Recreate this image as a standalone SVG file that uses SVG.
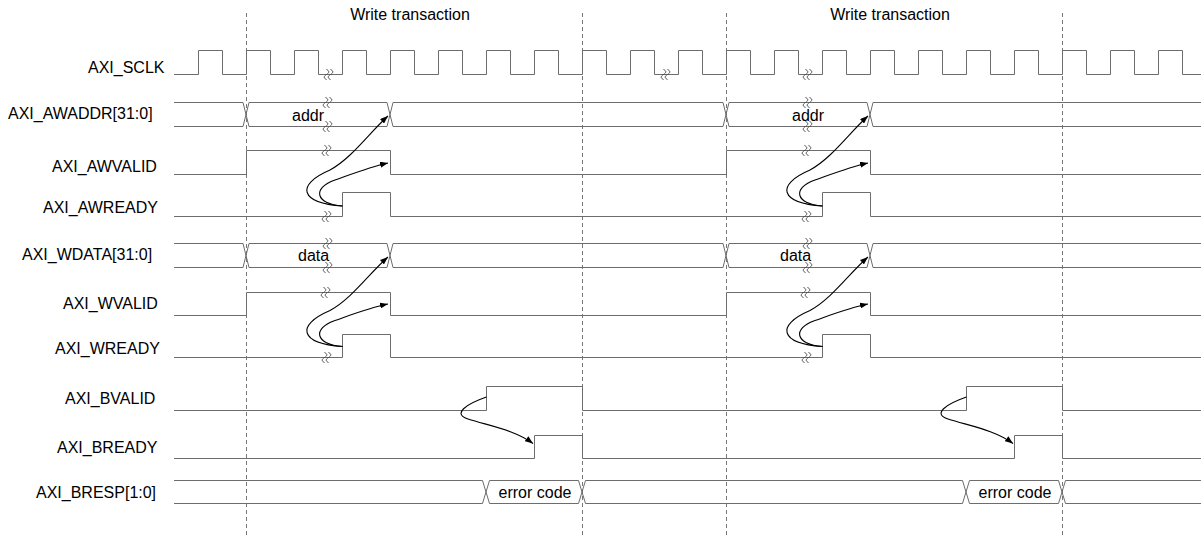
<svg xmlns="http://www.w3.org/2000/svg" width="1201" height="537" viewBox="0 0 1201 537">
<style>
text{font-family:"Liberation Sans",Arial,sans-serif;font-size:16px;fill:#000}
.w{fill:none;stroke:#6d6d6d;stroke-width:1}
.dash{fill:none;stroke:#777;stroke-width:1;stroke-dasharray:4 3}
.brk{fill:none;stroke:#4a4a4a;stroke-width:1}
.arr{fill:none;stroke:#000;stroke-width:1.1;marker-end:url(#ah)}
</style>
<defs>
<marker id="ah" viewBox="0 0 8 6" refX="8" refY="3" markerWidth="8" markerHeight="6" orient="auto" markerUnits="userSpaceOnUse"><path d="M0,0 L8,3 L0,6 z" fill="#000"/></marker>
<g id="bm"><path class="brk" d="M-3.5,-5 c3,1.2 3,3.4 0,5 c-3,1.6 -3,3.8 0,5"/><path class="brk" d="M0.5,-5 c3,1.2 3,3.4 0,5 c-3,1.6 -3,3.8 0,5"/></g>
</defs>
<rect width="1201" height="537" fill="#fff"/>

<g id="guides">
<line class="dash" x1="246.5" y1="13" x2="246.5" y2="536"/>
<line class="dash" x1="582.5" y1="13" x2="582.5" y2="536"/>
<line class="dash" x1="726.5" y1="13" x2="726.5" y2="536"/>
<line class="dash" x1="1062.5" y1="13" x2="1062.5" y2="536"/>
<text x="410" y="20" text-anchor="middle">Write transaction</text>
<text x="890" y="20" text-anchor="middle">Write transaction</text>
</g>

<g id="sclk">
<text x="88" y="73">AXI_SCLK</text>
<path class="w" d="M174,74.5 H198.5 V50.5 H222.5 V74.5 H246.5 V50.5 H270.5 V74.5 H294.5 V50.5 H318.5 V74.5 H342.5 V50.5 H366.5 V74.5 H390.5 V50.5 H414.5 V74.5 H438.5 V50.5 H462.5 V74.5 H486.5 V50.5 H510.5 V74.5 H534.5 V50.5 H558.5 V74.5 H582.5 V50.5 H606.5 V74.5 H630.5 V50.5 H654.5 V74.5 H678.5 V50.5 H702.5 V74.5 H726.5 V50.5 H750.5 V74.5 H774.5 V50.5 H798.5 V74.5 H822.5 V50.5 H846.5 V74.5 H870.5 V50.5 H894.5 V74.5 H918.5 V50.5 H942.5 V74.5 H966.5 V50.5 H990.5 V74.5 H1014.5 V50.5 H1038.5 V74.5 H1062.5 V50.5 H1086.5 V74.5 H1110.5 V50.5 H1134.5 V74.5 H1158.5 V50.5 H1182.5 V74.5 H1201"/>
<use href="#bm" x="330" y="74.5"/>
<use href="#bm" x="667" y="74.5"/>
<use href="#bm" x="809" y="74.5"/>
</g>

<g id="awaddr">
<text x="8" y="119">AXI_AWADDR[31:0]</text>
<path class="w" d="M174,102.5 H243 L249,126.5 H387 L393,102.5 H723 L729,126.5 H867 L873,102.5 H1201"/>
<path class="w" d="M174,126.5 H243 L249,102.5 H387 L393,126.5 H723 L729,102.5 H867 L873,126.5 H1201"/>
<text x="292" y="121">addr</text>
<text x="792" y="121">addr</text>
<use href="#bm" x="329" y="102.5"/><use href="#bm" x="329" y="126.5"/>
<use href="#bm" x="809" y="102.5"/><use href="#bm" x="809" y="126.5"/>
</g>

<g id="awvalid">
<text x="52" y="171.5">AXI_AWVALID</text>
<path class="w" d="M174,174.5 H246.5 V150.5 H390.5 V174.5 H726.5 V150.5 H870.5 V174.5 H1201"/>
<use href="#bm" x="328" y="150.5"/><use href="#bm" x="808" y="150.5"/>
</g>

<g id="awready">
<text x="43" y="213">AXI_AWREADY</text>
<path class="w" d="M174,216.5 H342.5 V192.5 H390.5 V216.5 H822.5 V192.5 H870.5 V216.5 H1201"/>
<use href="#bm" x="328" y="216.5"/><use href="#bm" x="808" y="216.5"/>
</g>

<g id="wdata">
<text x="22" y="260">AXI_WDATA[31:0]</text>
<path class="w" d="M174,243.5 H243 L249,267.5 H387 L393,243.5 H723 L729,267.5 H867 L873,243.5 H1201"/>
<path class="w" d="M174,267.5 H243 L249,243.5 H387 L393,267.5 H723 L729,243.5 H867 L873,267.5 H1201"/>
<text x="298" y="261">data</text>
<text x="780" y="261">data</text>
<use href="#bm" x="329" y="243.5"/><use href="#bm" x="329" y="267.5"/>
<use href="#bm" x="809" y="243.5"/><use href="#bm" x="809" y="267.5"/>
</g>

<g id="wvalid">
<text x="63" y="309">AXI_WVALID</text>
<path class="w" d="M174,315.5 H246.5 V292.5 H390.5 V315.5 H726.5 V292.5 H870.5 V315.5 H1201"/>
<use href="#bm" x="327" y="292.5"/><use href="#bm" x="807" y="292.5"/>
</g>

<g id="wready">
<text x="55" y="354">AXI_WREADY</text>
<path class="w" d="M174,357.5 H342.5 V334.5 H390.5 V357.5 H822.5 V334.5 H870.5 V357.5 H1201"/>
<use href="#bm" x="328" y="357.5"/><use href="#bm" x="808" y="357.5"/>
</g>

<g id="bvalid">
<text x="65" y="404">AXI_BVALID</text>
<path class="w" d="M174,410.5 H486.5 V386.5 H582.5 V410.5 H966.5 V386.5 H1062.5 V410.5 H1201"/>
</g>

<g id="bready">
<text x="57" y="452.5">AXI_BREADY</text>
<path class="w" d="M174,458.5 H534.5 V435.5 H582.5 V458.5 H1014.5 V435.5 H1062.5 V458.5 H1201"/>
</g>

<g id="bresp">
<text x="36" y="498">AXI_BRESP[1:0]</text>
<path class="w" d="M174,480.5 H482.5 L489.5,503.5 H578.5 L585.5,480.5 H962.5 L969.5,503.5 H1058.5 L1065.5,480.5 H1201"/>
<path class="w" d="M174,503.5 H482.5 L489.5,480.5 H578.5 L585.5,503.5 H962.5 L969.5,480.5 H1058.5 L1065.5,503.5 H1201"/>
<text x="535" y="497.5" text-anchor="middle">error code</text>
<text x="1015" y="497.5" text-anchor="middle">error code</text>
</g>

<g id="connectors">
<path class="arr" d="M342.5,206 C300,203 295,185 330,170 C352,158 370,132 388,116"/>
<path class="arr" d="M342.5,206 C315,204 312,188 335,180 C352,174 370,167 388,163"/>
<path class="arr" d="M342.5,346.5 C300,343.5 295,325.5 330,310.5 C352,298.5 370,272.5 388,257"/>
<path class="arr" d="M342.5,346.5 C315,344.5 312,328.5 335,320.5 C352,314.5 370,307.5 388,304"/>
<path class="arr" d="M486.5,397 C466,404 452,414 468,419 C490,426 515,430 533,443.5"/>
<path class="arr" d="M822.5,206 C780,203 775,185 810,170 C832,158 850,132 868,116"/>
<path class="arr" d="M822.5,206 C795,204 792,188 815,180 C832,174 850,167 868,163"/>
<path class="arr" d="M822.5,346.5 C780,343.5 775,325.5 810,310.5 C832,298.5 850,272.5 868,257"/>
<path class="arr" d="M822.5,346.5 C795,344.5 792,328.5 815,320.5 C832,314.5 850,307.5 868,304"/>
<path class="arr" d="M966.5,397 C946,404 932,414 948,419 C970,426 995,430 1013,443.5"/>
</g>
</svg>
